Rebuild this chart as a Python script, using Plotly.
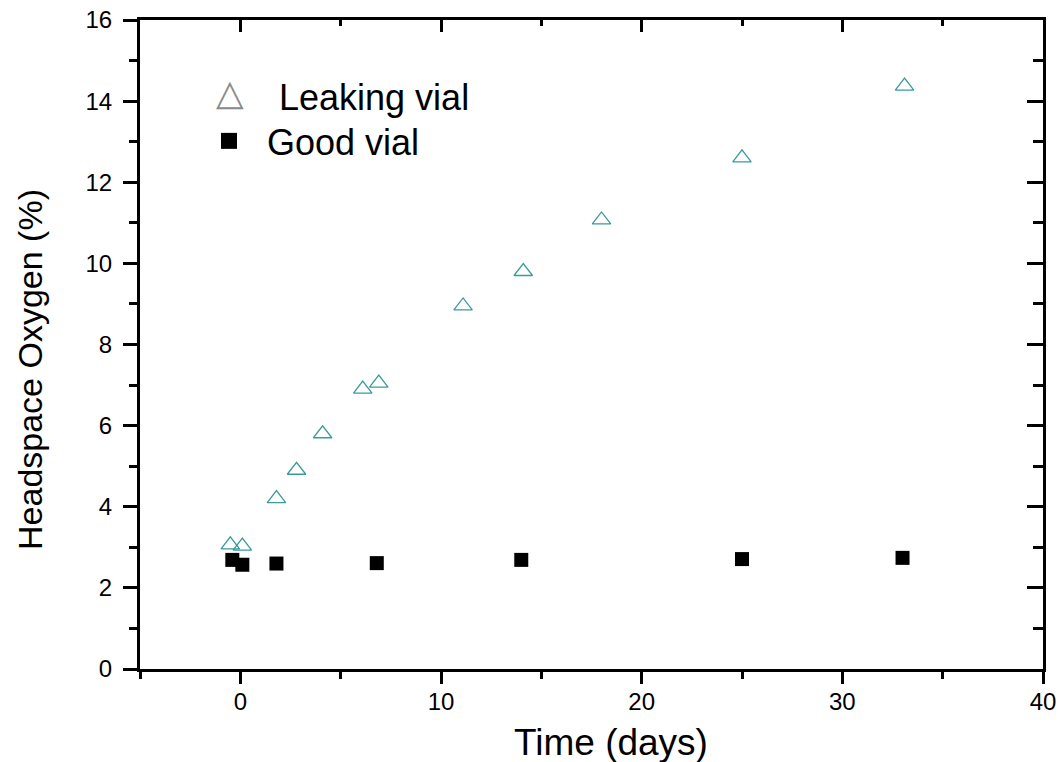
import plotly.graph_objects as go

# Data
time_leak = [-0.5, 0.1, 1.8, 2.8, 4.1, 6.1, 6.9, 11.1, 14.1, 18.0, 25.0, 33.1]
o2_leak = [3.06, 3.03, 4.2, 4.9, 5.8, 6.9, 7.05, 8.95, 9.8, 11.07, 12.6, 14.37]

time_good = [-0.4, 0.1, 1.8, 6.8, 14.0, 25.0, 33.0]
o2_good = [2.69, 2.57, 2.6, 2.61, 2.69, 2.71, 2.74]

x_ticks = [0, 10, 20, 30, 40]
y_ticks = [0, 2, 4, 6, 8, 10, 12, 14, 16]

x_title = "Time (days)"
y_title = "Headspace Oxygen (%)"

FONT = "Arial, Liberation Sans, sans-serif"
TEAL = "#3a9a9a"
GRAY = "#8a8a8a"

fig = go.Figure()

fig.add_trace(go.Scatter(
    x=time_leak, y=o2_leak, mode="markers", name="Leaking vial", showlegend=False,
    marker=dict(symbol="triangle-up-open", size=16, color=TEAL, line=dict(width=1.3, color=TEAL)),
))
fig.add_trace(go.Scatter(
    x=time_good, y=o2_good, mode="markers", name="Good vial", showlegend=False,
    marker=dict(symbol="square", size=14, color="black"),
))
# legend entries (each in its own legend for exact placement)
fig.add_trace(go.Scatter(
    x=[None], y=[None], mode="markers", name="\u00a0Leaking vial", legend="legend",
    marker=dict(symbol="triangle-up-open", size=16, color="rgba(0,0,0,0)",
                line=dict(width=0, color="rgba(0,0,0,0)")),
))
fig.add_trace(go.Scatter(
    x=[None], y=[None], mode="markers", name="Good vial", legend="legend2",
    marker=dict(symbol="square", size=16, color="black"),
))
# invisible trace on mirrored axes (top / right inward ticks)
fig.add_trace(go.Scatter(
    x=time_good, y=o2_good, mode="markers", xaxis="x2", yaxis="y2", showlegend=False,
    marker=dict(opacity=0), hoverinfo="skip",
))

axis_common = dict(showgrid=False, zeroline=False, linecolor="black", linewidth=3,
                   tickcolor="black", tickwidth=3, automargin=False)

legend_common = dict(xanchor="left", yanchor="middle", bgcolor="rgba(0,0,0,0)", borderwidth=0,
                     itemwidth=66, font=dict(size=36, family=FONT), itemsizing="trace")

fig.update_layout(
    width=1059, height=762,
    margin=dict(l=140, r=16, t=20, b=93),
    plot_bgcolor="white", paper_bgcolor="white",
    font=dict(family=FONT, color="black"),
    xaxis=dict(
        **axis_common, range=[-5, 40], tickvals=x_ticks, ticks="outside", ticklen=12,
        tickfont=dict(size=24), ticklabelstandoff=-3,
        minor=dict(dtick=5, tick0=0, ticks="outside", ticklen=7, tickwidth=3, tickcolor="black"),
    ),
    yaxis=dict(
        **axis_common, range=[0, 16], tickvals=y_ticks, ticks="outside", ticklen=14,
        tickfont=dict(size=24), ticklabelstandoff=6,
        minor=dict(dtick=1, tick0=0, ticks="outside", ticklen=8, tickwidth=3, tickcolor="black"),
    ),
    xaxis2=dict(
        **axis_common, range=[-5, 40], overlaying="x", side="top", tickvals=x_ticks,
        ticks="inside", ticklen=12, showticklabels=False,
        minor=dict(dtick=5, tick0=0, ticks="inside", ticklen=6, tickwidth=3, tickcolor="black"),
    ),
    yaxis2=dict(
        **axis_common, range=[0, 16], overlaying="y", side="right", anchor="x2", tickvals=y_ticks,
        ticks="inside", ticklen=16, showticklabels=False,
        minor=dict(dtick=1, tick0=0, ticks="inside", ticklen=10, tickwidth=3, tickcolor="black"),
    ),
    legend=dict(**legend_common, x=0.0587, y=0.883),
    legend2=dict(**legend_common, x=0.0565, y=0.8136),
    annotations=[
        dict(text=x_title, xref="paper", yref="paper", x=0.5216, y=-0.114,
             xanchor="center", yanchor="middle", showarrow=False, font=dict(size=37)),
        dict(text=y_title, xref="paper", yref="paper", x=-0.122, y=0.462, textangle=-90,
             xanchor="center", yanchor="middle", showarrow=False, font=dict(size=34)),
        # large gray legend symbol for "Leaking vial"
        dict(text="\u25b3", xref="paper", yref="paper", x=0.0997, y=0.888,
             xanchor="center", yanchor="middle", showarrow=False,
             font=dict(size=36, color=GRAY, family="DejaVu Sans")),
    ],
)

fig.write_html("out.html", config={"displayModeBar": False},
               post_script="document.body.style.margin='0';")
